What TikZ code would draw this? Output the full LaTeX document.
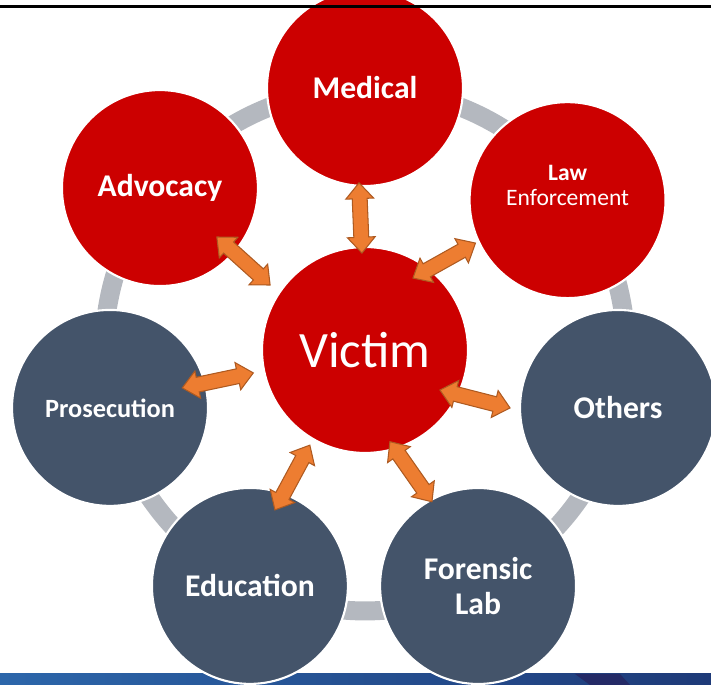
\documentclass[tikz,border=0pt]{standalone}
\usepackage{fontspec}
\setmainfont{Carlito}
\usetikzlibrary{calc}

\definecolor{ballred}{RGB}{204,0,0}
\definecolor{ballslate}{RGB}{68,84,106}
\definecolor{ringgray}{RGB}{180,184,191}
\definecolor{arroworange}{RGB}{237,125,49}
\definecolor{arrowedge}{RGB}{174,90,33}
\definecolor{bandleft}{RGB}{44,102,170}
\definecolor{bandmid}{RGB}{35,74,150}
\definecolor{bandright}{RGB}{30,58,120}
\definecolor{bandnavy}{RGB}{36,42,102}

\tikzset{
  ball/.style={circle,draw=white,line width=1.2pt,minimum size=3.92cm,inner sep=0pt,
    text=white,align=center,font=\bfseries\fontsize{18}{19.8}\selectfont},
  redball/.style={ball,fill=ballred},
  slateball/.style={ball,fill=ballslate},
  arrowbody/.style={fill=arroworange,draw=arrowedge,line width=0.6pt,line join=miter}
}

% double headed block arrow between two points
\newcommand\twoway[2]{%
  \draw[arrowbody] let \p1=(#1), \p2=(#2),
    \n1={veclen(\x2-\x1,\y2-\y1)}, \n2={atan2(\y2-\y1,\x2-\x1)} in
    [shift={(\p1)},rotate=\n2]
    (0pt,0pt) -- (9pt,7.9pt) -- (9pt,4.25pt) -- (\n1-9pt,4.25pt) -- (\n1-9pt,7.9pt)
    -- (\n1,0pt) -- (\n1-9pt,-7.9pt) -- (\n1-9pt,-4.25pt) -- (9pt,-4.25pt)
    -- (9pt,-7.9pt) -- cycle;}

\begin{document}
\begin{tikzpicture}[x=0.02cm,y=0.02cm]
  \useasboundingbox (-365,-335) rectangle (346,350);

  % bottom band
  \shade[left color=bandleft,middle color=bandmid,right color=bandright]
    (-365,-335) rectangle (346,-324);
  \fill[bandnavy] (210,-324) -- (255,-324) -- (265,-335) -- (225,-335) -- cycle;

  % ring behind the circles
  \draw[ringgray,line width=10.8pt] (0,0) circle (5.22cm);

  \node[redball,minimum size=4.12cm,font=\fontsize{29}{35}\selectfont] (victim) at (0,0) {Victim};
  \node[redball] (medical) at (90:262) {Medical};
  \node[redball] (law) at (36.5:252) {\raisebox{3.5pt}[0pt][0pt]{\fontsize{13.4}{14.2}\selectfont
    \begin{tabular}{@{}c@{}}\bfseries Law\\ \mdseries Enforcement\end{tabular}}};
  \node[slateball] (others) at (-12.9:259.6) {Others};
  \node[slateball] (forensic) at (-64.4:261.7) {Forensic\\Lab};
  \node[slateball] (education) at (-116:262.5) {Education};
  \node[slateball,font=\bfseries\fontsize{15}{18}\selectfont] (prosecution) at (-167.2:261.5) {Prosecution};
  \node[redball] (advocacy) at (141.7:261.3) {Advocacy};

  \foreach \ball/\a/\r/\b/\s in {medical/91.8/97/-93.6/95, law/56.3/86.5/205/101.6,
    advocacy/145.6/115/-40.7/75, prosecution/191.6/114/15.5/75, others/-28.1/85/180/108,
    forensic/-74.8/95/118.7/96, education/-120.1/110/71.8/80} {
   \twoway{$(victim)+(\a:\r)$}{$(\ball)+(\b:\s)$}
  }

  % rule along the top
  \draw[line width=1.2pt] (-365,343.5) -- (346,343.5);
\end{tikzpicture}
\end{document}
